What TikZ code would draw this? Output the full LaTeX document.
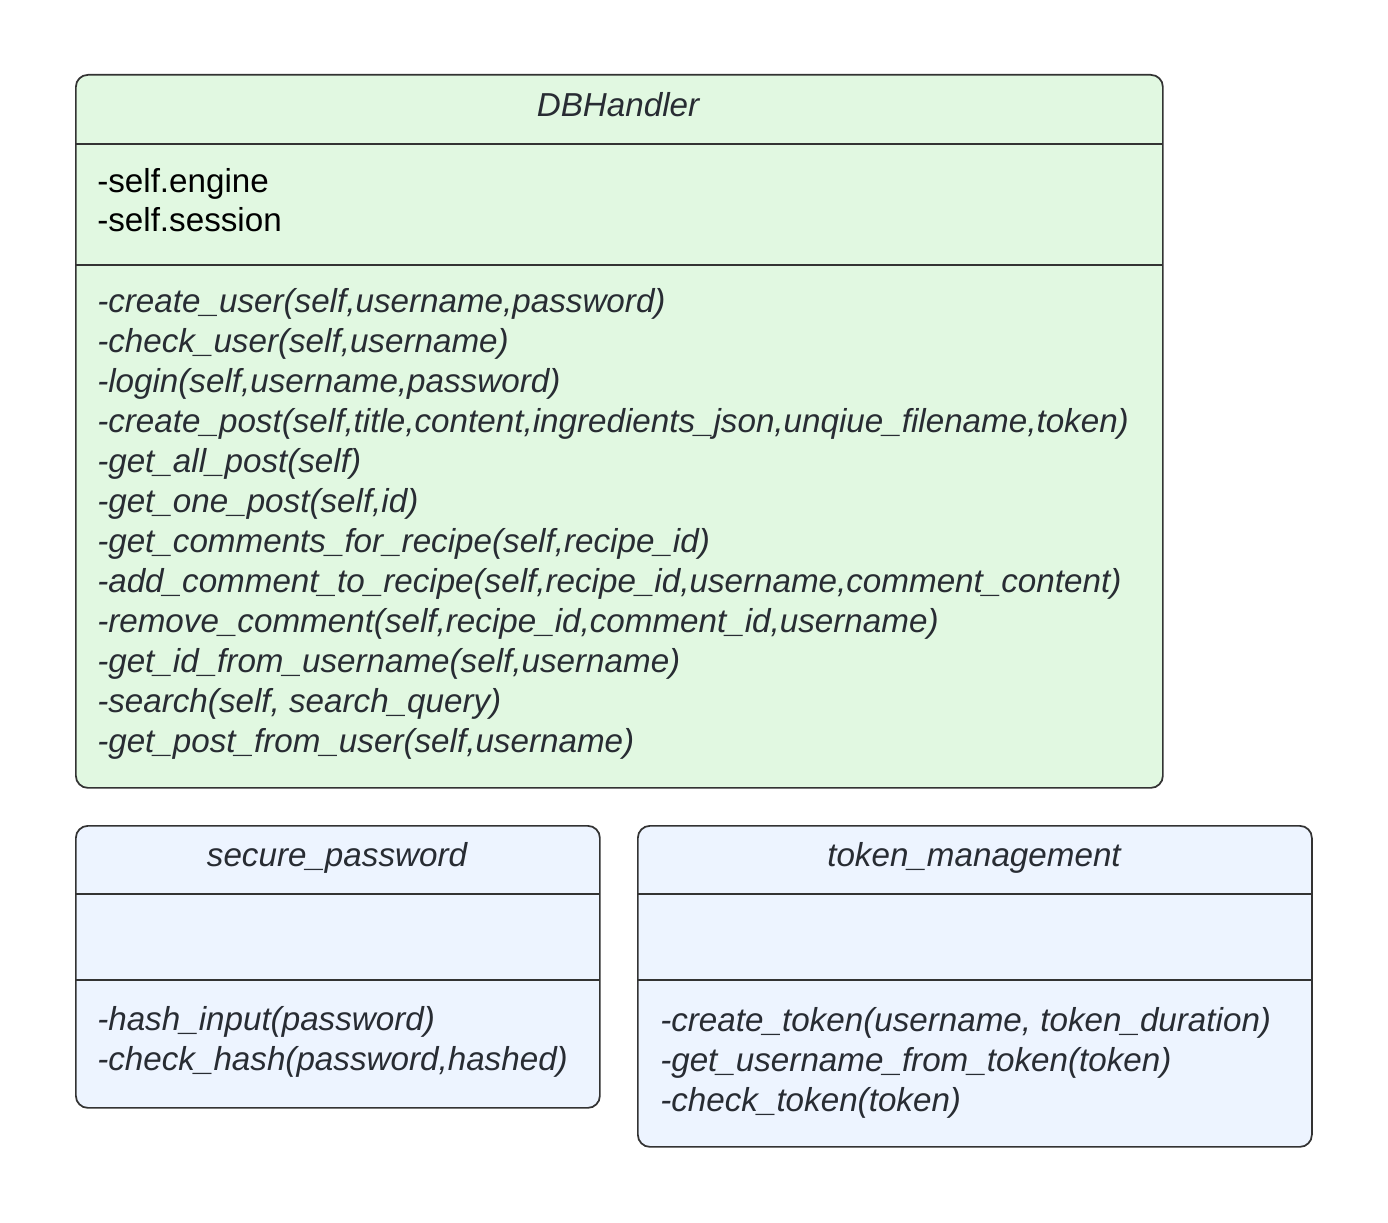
\documentclass[tikz,border=0pt]{standalone}
\usepackage{fontspec}
\setmainfont{Liberation Sans}
\definecolor{greenfill}{HTML}{E1F8E1}
\definecolor{bluefill}{HTML}{EDF4FF}
\definecolor{edge}{HTML}{333333}
\definecolor{txt}{HTML}{282C33}
\begin{document}
\begin{tikzpicture}[x=0.75pt,y=-0.75pt,
  classbox/.style={draw=edge,line width=1.3pt,rounded corners=9pt,inner sep=0pt,anchor=north west},
  divider/.style={draw=edge,line width=0.8pt},
  title/.style={font=\fontsize{24.9}{28}\selectfont\itshape,text=txt,anchor=mid,inner sep=0pt,yshift=-7*0.75pt},
  attr/.style={font=\fontsize{24.9}{28}\selectfont,text=black,anchor=mid west,inner sep=0pt,yshift=-7*0.75pt},
  meth/.style={font=\fontsize{24.9}{28}\selectfont\itshape,text=txt,anchor=mid west,inner sep=0pt,yshift=-7*0.75pt}]
\useasboundingbox[fill=white] (0,0) rectangle (1388,1223);
% DBHandler
\node[classbox,fill=greenfill,minimum width=1087*0.75pt,minimum height=713*0.75pt] (db) at (75,74) {};
\coordinate (dbd1l) at (75,144); \coordinate (dbd1r) at (1162,144);
\coordinate (dbd2l) at (75,265); \coordinate (dbd2r) at (1162,265);
\draw[divider] (dbd1l) -- (dbd1r);
\draw[divider] (dbd2l) -- (dbd2r);
\node[title] (dbt) at (618,106) {DBHandler};
\node[attr] (a1) at (97,182) {-self.engine};
\node[attr] (a2) at (97,221) {-self.session};
\node[meth] (m1) at (97,302) {-create\_user(self,username,password)};
\node[meth] (m2) at (97,342) {-check\_user(self,username)};
\node[meth] (m3) at (97,382) {-login(self,username,password)};
\node[meth] (m4) at (97,422) {-create\_post(self,title,content,ingredients\_json,unqiue\_filename,token)};
\node[meth] (m5) at (97,462) {-get\_all\_post(self)};
\node[meth] (m6) at (97,502) {-get\_one\_post(self,id)};
\node[meth] (m7) at (97,542) {-get\_comments\_for\_recipe(self,recipe\_id)};
\node[meth] (m8) at (97,582) {-add\_comment\_to\_recipe(self,recipe\_id,username,comment\_content)};
\node[meth] (m9) at (97,622) {-remove\_comment(self,recipe\_id,comment\_id,username)};
\node[meth] (m10) at (97,662) {-get\_id\_from\_username(self,username)};
\node[meth] (m11) at (97,702) {-search(self, search\_query)};
\node[meth] (m12) at (97,742) {-get\_post\_from\_user(self,username)};
% secure_password
\node[classbox,fill=bluefill,minimum width=524*0.75pt,minimum height=282*0.75pt] (sp) at (75,825) {};
\coordinate (spd1l) at (75,894); \coordinate (spd1r) at (599,894);
\coordinate (spd2l) at (75,980); \coordinate (spd2r) at (599,980);
\draw[divider] (spd1l) -- (spd1r);
\draw[divider] (spd2l) -- (spd2r);
\node[title] (spt) at (337,856) {secure\_password};
\node[meth] (s1) at (97,1020) {-hash\_input(password)};
\node[meth] (s2) at (97,1060) {-check\_hash(password,hashed)};
% token_management
\node[classbox,fill=bluefill,minimum width=674*0.75pt,minimum height=321*0.75pt] (tm) at (637,825) {};
\coordinate (tmd1l) at (637,894); \coordinate (tmd1r) at (1311,894);
\coordinate (tmd2l) at (637,980); \coordinate (tmd2r) at (1311,980);
\draw[divider] (tmd1l) -- (tmd1r);
\draw[divider] (tmd2l) -- (tmd2r);
\node[title] (tmt) at (974,856) {token\_management};
\node[meth] (t1) at (660,1021) {-create\_token(username, token\_duration)};
\node[meth] (t2) at (660,1061) {-get\_username\_from\_token(token)};
\node[meth] (t3) at (660,1101) {-check\_token(token)};
\end{tikzpicture}
\end{document}
